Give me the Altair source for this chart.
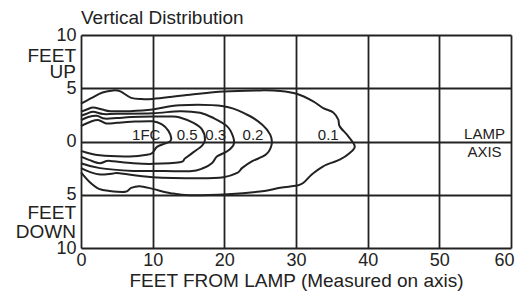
import altair as alt
import pandas as pd

FONT = "Liberation Sans"
INK = "#222222"

# Isofootcandle contours (x = feet from lamp, y = feet up(+)/down(-))
c1_x = [0, 1.5, 2.5, 3.5, 5, 7, 10, 11.3, 12.2, 12.6, 12.4, 11.7, 10.6, 10, 9.2, 6.8, 2.6, 0]
c1_y = [1.45, 1.9, 2.0, 1.7, 1.75, 1.85, 1.9, 1.6, 1.0, 0.3, 0.0, -0.2, -0.5, -1.05, -1.25, -1.4, -1.3, -0.88]

c05_x = [0, 1.0, 2.2, 3.3, 5, 7, 10, 12.5, 13.8, 15.7, 16.9, 17.3, 16.9, 15.7, 14.5, 13.8, 10, 7.3, 4.5, 3.6, 2.6, 1.2, 0]
c05_y = [2.0, 2.3, 2.42, 2.15, 2.2, 2.3, 2.35, 2.35, 2.25, 1.74, 1.11, 0.17, -0.39, -1.0, -1.6, -1.95, -2.1, -2.04, -1.85, -1.83, -2.04, -1.75, -1.42]

c03_x = [0, 0.8, 1.7, 3.1, 5, 10, 13.8, 16.6, 18.5, 20.4, 21.2, 21.3, 20.4, 19.0, 18.3, 17.1, 15.2, 10, 7.3, 2.65, 0]
c03_y = [2.42, 2.6, 2.8, 2.58, 2.6, 2.65, 2.85, 2.7, 2.2, 1.42, 0.49, -0.3, -0.92, -1.39, -2.02, -2.49, -2.79, -2.76, -2.76, -2.5, -2.04]

c02_x = [0, 0.8, 1.7, 3.0, 4.1, 6.8, 10, 13.8, 19.9, 23.2, 25.3, 26.4, 26.6, 25.8, 23.9, 22.5, 21.8, 19.9, 16.6, 10, 5.4, 4.5, 2.65, 1.2, 0]
c02_y = [2.8, 3.0, 3.2, 3.0, 2.85, 2.85, 3.0, 3.4, 3.3, 2.51, 1.58, 0.64, -0.29, -1.23, -1.85, -2.48, -2.95, -3.35, -3.45, -3.35, -2.98, -3.0, -3.1, -2.85, -2.5]

c01_x = [0, 1.5, 3, 4.5, 5.5, 7, 8.5, 10, 15.2, 19.9, 25, 27.8, 30.1, 32.4, 33.8, 35.2, 35.9, 36.1, 37.3, 38.2, 37.5, 36.1, 33.8, 32.2, 31.0, 30.1, 27.8, 25, 20.5, 15.2, 12.5, 10, 8.2, 7.0, 6.2, 4, 2.5, 1.2, 0]
c01_y = [3.55, 4.1, 4.6, 4.8, 4.7, 4.1, 3.98, 4.0, 4.39, 4.7, 4.8, 4.75, 4.48, 3.77, 3.14, 2.73, 2.05, 1.42, 0.49, -0.45, -1.07, -1.7, -2.33, -3.1, -3.9, -4.14, -4.35, -4.7, -4.95, -5.05, -4.85, -4.45, -4.2, -4.35, -4.72, -4.65, -4.45, -3.8, -2.9]

contours = {"1FC": (c1_x, c1_y), "0.5": (c05_x, c05_y), "0.3": (c03_x, c03_y),
            "0.2": (c02_x, c02_y), "0.1": (c01_x, c01_y)}

label_text = ["1FC", "0.5", "0.3", "0.2", "0.1"]
label_x = [9.1, 14.8, 18.8, 24.0, 34.5]
label_y = [0.15, 0.15, 0.15, 0.15, 0.15]

side_text = ["FEET", "UP", "FEET", "DOWN"]
side_y = [8.03, 6.48, -6.67, -8.54]

lamp_text = ["LAMP", "AXIS"]
lamp_x = [56.3, 56.3]
lamp_y = [0.70, -0.99]

x_ticks = [0, 10, 20, 30, 40, 50, 60]
y_ticks = [-10, -5, 0, 5, 10]

rows = []
for name, (xs, ys) in contours.items():
    for i, (a, b) in enumerate(zip(xs, ys)):
        rows.append({"contour": name, "order": i, "x": a, "y": b})
df = pd.DataFrame(rows)

labels_df = pd.DataFrame({"label": label_text, "x": label_x, "y": label_y})
side_df = pd.DataFrame({"text": side_text, "y": side_y})
lamp_df = pd.DataFrame({"text": lamp_text, "x": lamp_x, "y": lamp_y})

xscale = alt.Scale(domain=[0, 60], nice=False, zero=False)
yscale = alt.Scale(domain=[-10, 10], nice=False, zero=False)

xaxis = alt.Axis(values=x_ticks, grid=True, gridColor=INK, gridWidth=1.8, gridOpacity=1,
                 domain=False, ticks=False, labelFlush=False, labelFont=FONT, labelFontSize=18,
                 labelColor=INK, labelPadding=3,
                 labelAlign={"condition": {"test": "datum.value == 60", "value": "right"}, "value": "center"},
                 labelOffset={"condition": {"test": "datum.value == 60", "value": 3}, "value": 0},
                 title="FEET FROM LAMP (Measured on axis)",
                 titleFont=FONT, titleFontSize=19, titleFontWeight="normal", titleColor=INK,
                 titlePadding=2)
yaxis = alt.Axis(values=y_ticks, grid=True, gridColor=INK, gridWidth=1.8, gridOpacity=1,
                 domain=False, ticks=False, labelFlush=False, labelFont=FONT, labelFontSize=18,
                 labelColor=INK, labelPadding=5, labelExpr="abs(datum.value)", title=None)

lines = alt.Chart(df).mark_line(interpolate="cardinal", strokeWidth=2, color=INK).encode(
    x=alt.X("x:Q", scale=xscale, axis=xaxis),
    y=alt.Y("y:Q", scale=yscale, axis=yaxis),
    detail="contour:N",
    order="order:Q",
)

clabels = alt.Chart(labels_df).mark_text(font=FONT, fontSize=15, color=INK, align="center",
                                         baseline="alphabetic").encode(
    x=alt.X("x:Q", scale=xscale, axis=xaxis),
    y=alt.Y("y:Q", scale=yscale, axis=yaxis),
    text="label:N",
)

side = alt.Chart(side_df).mark_text(font=FONT, fontSize=19, color=INK, align="right",
                                    baseline="middle").encode(
    x=alt.value(-5),
    y=alt.Y("y:Q", scale=yscale, axis=yaxis),
    text="text:N",
)

lamp = alt.Chart(lamp_df).mark_text(font=FONT, fontSize=15, color=INK, align="center",
                                    baseline="middle").encode(
    x=alt.X("x:Q", scale=xscale, axis=xaxis),
    y=alt.Y("y:Q", scale=yscale, axis=yaxis),
    text="text:N",
)

chart = alt.layer(lines, clabels, side, lamp).properties(
    width=430, height=213,
    autosize=alt.AutoSizeParams(type="none"),
    padding={"left": 73, "right": 4, "top": 27, "bottom": 43},
    title=alt.TitleParams("Vertical Distribution", anchor="start", frame="group", font=FONT,
                          fontSize=19, fontWeight="normal", color=INK, offset=-2),
).configure_view(strokeWidth=0)

chart.save("out.html", embed_options={"renderer": "svg", "actions": False})
